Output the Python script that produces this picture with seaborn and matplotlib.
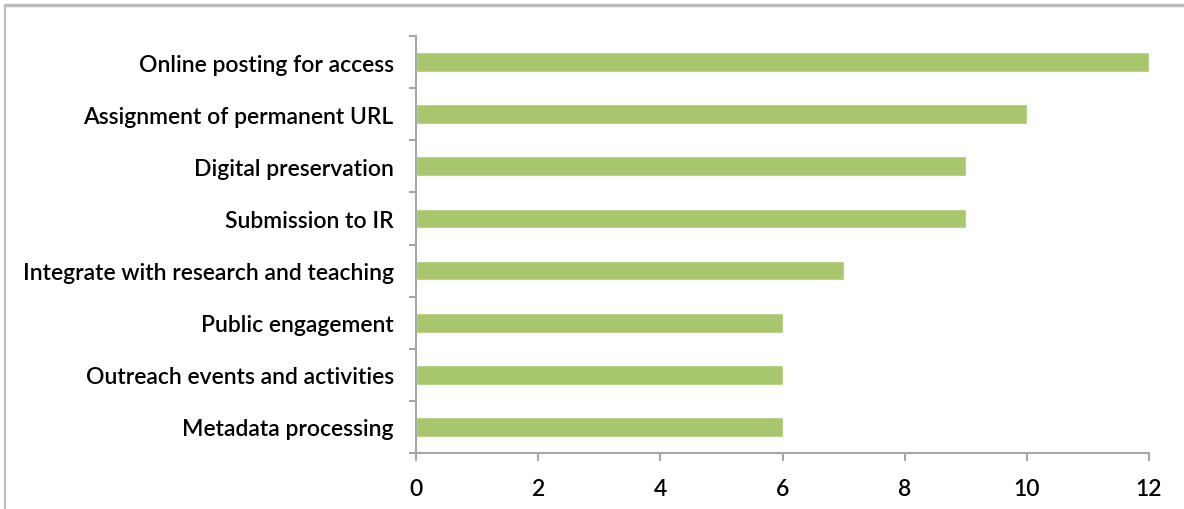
import matplotlib
matplotlib.use("Agg")
import matplotlib.pyplot as plt
from matplotlib.lines import Line2D
import seaborn as sns
import pandas as pd

categories = [
    "Online posting for access",
    "Assignment of permanent URL",
    "Digital preservation",
    "Submission to IR",
    "Integrate with research and teaching",
    "Public engagement",
    "Outreach events and activities",
    "Metadata processing",
]
counts = [12, 10, 9, 9, 7, 6, 6, 6]
x_ticks = [0, 2, 4, 6, 8, 10, 12]

df = pd.DataFrame({"activity": categories, "count": counts})

sns.set_theme(style="white")
plt.rcParams["font.family"] = ["Lato", "DejaVu Sans"]

axis_grey = "#A6A6A6"
bar_green = "#A8C66C"

fig = plt.figure(figsize=(11.84, 5.10), dpi=100)
ax = fig.add_axes([416 / 1184, 1 - 454 / 510, (1149 - 416) / 1184, (454 - 37) / 510])

sns.barplot(data=df, x="count", y="activity", orient="h", color=bar_green,
            saturation=1, width=0.38, ax=ax)

ax.set_xlim(0, 12)
ax.set_ylim(len(categories) - 0.5, -0.5)
ax.set_xticks(x_ticks)
ax.set_xticklabels([str(t) for t in x_ticks], fontweight="semibold")
ax.set_xlabel("")
ax.set_ylabel("")

# category ticks sit on the boundaries between bars
ax.set_yticks([i - 0.5 for i in range(len(categories) + 1)], minor=False)
ax.set_yticklabels([])
ax.set_yticks(range(len(categories)), minor=True)
ax.set_yticklabels(categories, minor=True, fontweight="semibold")
ax.tick_params(axis="y", which="minor", left=True, length=0, pad=16,
               labelsize=16.5, labelcolor="black")
ax.tick_params(axis="y", which="major", left=True, length=5, width=1.5,
               color=axis_grey, direction="out")
ax.tick_params(axis="x", bottom=True, length=6, width=1.5, color=axis_grey, direction="out",
               labelsize=16.5, labelcolor="black", pad=12)

for side in ["top", "right"]:
    ax.spines[side].set_visible(False)
for side in ["left", "bottom"]:
    ax.spines[side].set_color(axis_grey)
    ax.spines[side].set_linewidth(1.5)

# thin frame along the top and left edges of the figure
fig.add_artist(Line2D([5 / 1184, 1], [1 - 6 / 510, 1 - 6 / 510], color="#BDBDBD", lw=2.5))
fig.add_artist(Line2D([5 / 1184, 5 / 1184], [0, 1 - 6 / 510], color="#BDBDBD", lw=1.5))

fig.savefig("out.png", dpi=100)
